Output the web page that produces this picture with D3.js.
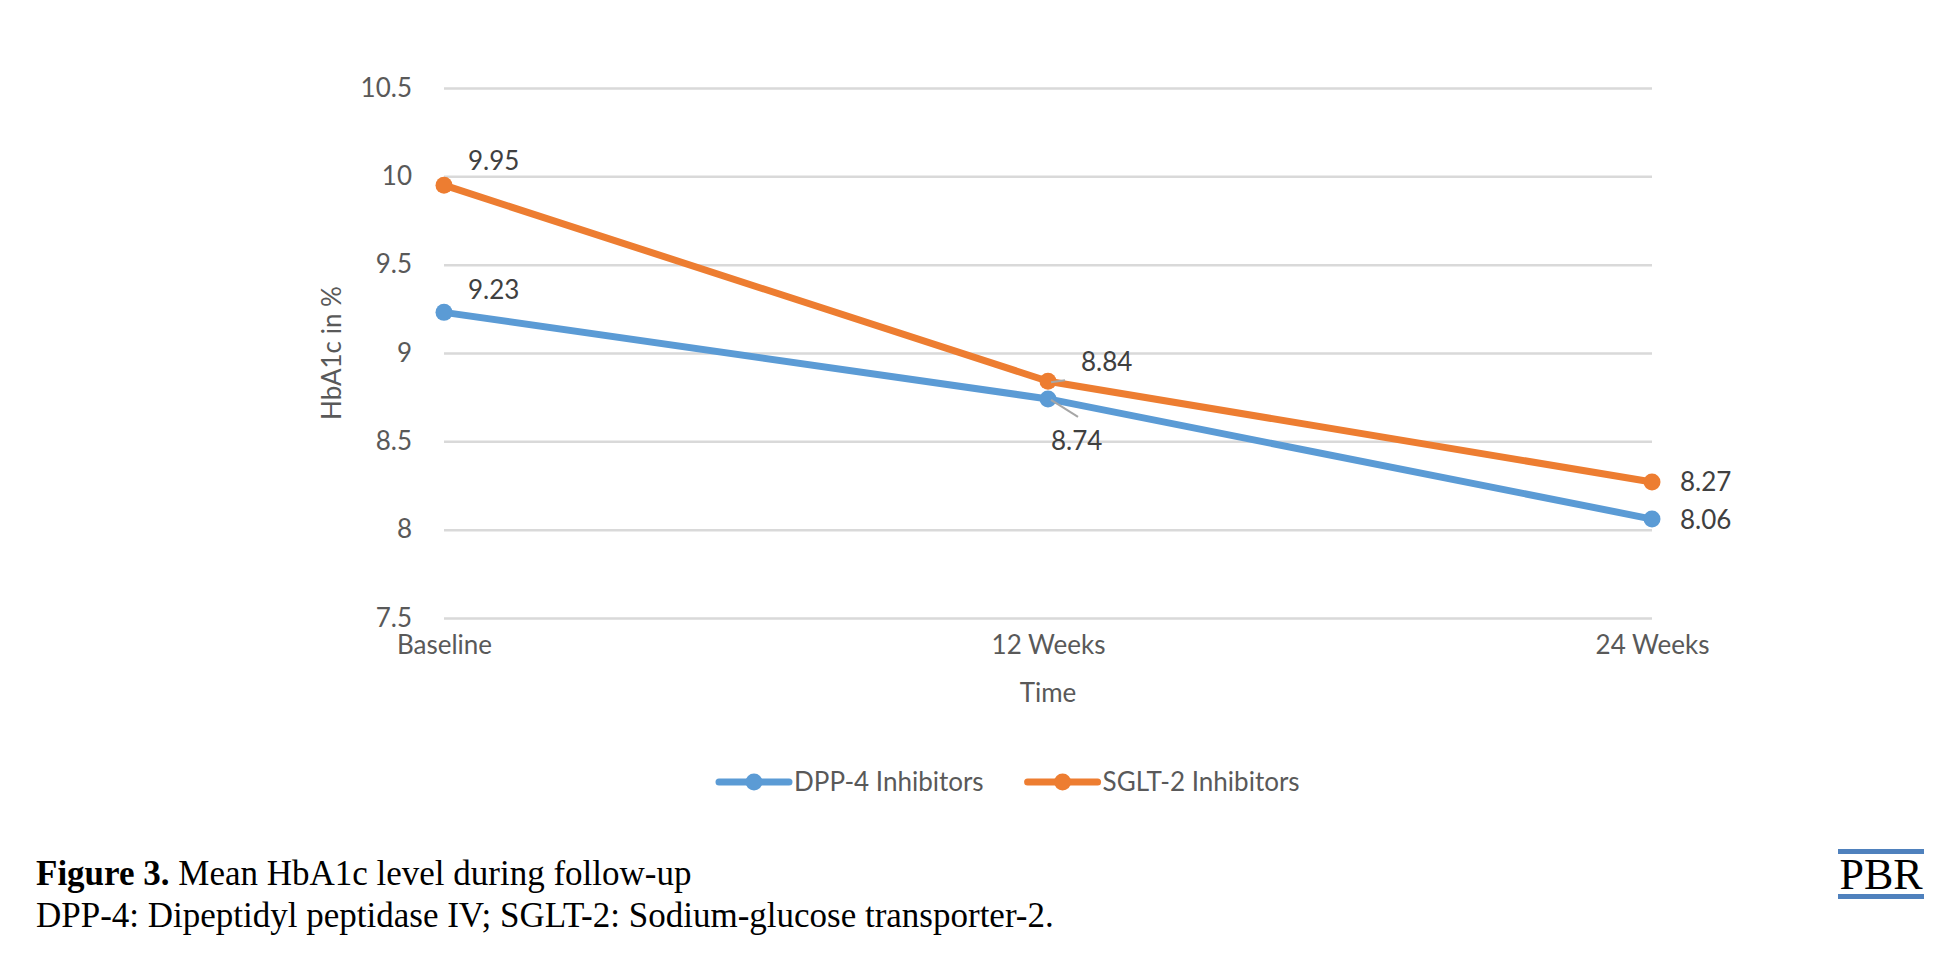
<!DOCTYPE html>
<html>
<head>
<meta charset="utf-8">
<script src="https://cdn.jsdelivr.net/npm/d3@7"></script>
<style>
  body { margin: 0; background: #fff; }
  svg { display: block; }
  .axis text { font-family: Lato, "Noto Sans", sans-serif; font-size: 26px; fill: #595959; }
  .axis line { stroke: #d9d9d9; stroke-width: 2.5; }
  .axis .domain { display: none; }
</style>
</head>
<body>
<div id="chart"></div>
<script>
(() => {
  // chart data
  const categories = ["Baseline", "12 Weeks", "24 Weeks"];
  const dppValues = [9.23, 8.74, 8.06];
  const sgltValues = [9.95, 8.84, 8.27];
  const seriesNames = ["DPP-4 Inhibitors", "SGLT-2 Inhibitors"];
  const yTicks = [7.5, 8, 8.5, 9, 9.5, 10, 10.5];
  const yTitle = "HbA1c in %";
  const xTitle = "Time";
  const captionBold = "Figure 3.";
  const captionText = " Mean HbA1c level during follow-up";
  const captionNote = "DPP-4: Dipeptidyl peptidase IV; SGLT-2: Sodium-glucose transporter-2.";

  // define main elements
  const width = 1951, height = 975;
  const plot = { left: 444, right: 1652, top: 88, bottom: 618 };
  const font = 'Lato, "Noto Sans", sans-serif';
  const colors = ["#5b9bd5", "#ed7d31"];

  const svg = d3.select("#chart")
    .append("svg")
    .attr("width", width)
    .attr("height", height);

  const x = d3.scalePoint()
    .domain(categories)
    .range([plot.left, plot.right]);
  const y = d3.scaleLinear()
    .domain([7.5, 10.5])
    .range([plot.bottom, plot.top]);

  // gridlines + y tick labels
  svg.append("g")
    .attr("class", "axis")
    .attr("transform", `translate(${plot.left},0)`)
    .call(d3.axisLeft(y)
      .tickValues(yTicks)
      .tickFormat(d => String(d))
      .tickSize(-(plot.right - plot.left))
      .tickPadding(32));

  // category labels
  svg.append("g")
    .attr("class", "axis")
    .attr("transform", `translate(0,${plot.bottom})`)
    .call(d3.axisBottom(x).tickSize(0).tickPadding(18));

  // axis titles
  svg.append("text")
    .attr("transform", `translate(341,${(plot.top + plot.bottom) / 2}) rotate(-90)`)
    .attr("text-anchor", "middle")
    .style("font-family", font).style("font-size", "26px").style("fill", "#595959")
    .text(yTitle);
  svg.append("text")
    .attr("x", x("12 Weeks"))
    .attr("y", 702)
    .attr("text-anchor", "middle")
    .style("font-family", font).style("font-size", "26px").style("fill", "#595959")
    .text(xTitle);

  const series = [dppValues, sgltValues].map((vals, i) => ({
    name: seriesNames[i],
    color: colors[i],
    points: vals.map((v, j) => ({ cat: categories[j], value: v }))
  }));

  const line = d3.line()
    .x(d => x(d.cat))
    .y(d => y(d.value));

  // lines and markers
  series.forEach(s => {
    const g = svg.append("g");
    g.append("path")
      .attr("d", line(s.points))
      .attr("fill", "none")
      .attr("stroke", s.color)
      .attr("stroke-width", 7)
      .attr("stroke-linejoin", "round");
    g.selectAll("circle")
      .data(s.points)
      .join("circle")
      .attr("cx", d => x(d.cat))
      .attr("cy", d => y(d.value))
      .attr("r", 8.5)
      .attr("fill", s.color);
  });

  // data label placement (offset from point, per series / category)
  const labelOffsets = [
    [[24, -13], [3, 51], [28, 10]],
    [[24, -15], [33, -10], [28, 9]]
  ];
  // leader lines for the moved labels at 12 weeks
  const leaders = [
    { s: 0, c: 1, dx: 30, dy: 18 },
    { s: 1, c: 1, dx: 17, dy: -1 }
  ];
  leaders.forEach(l => {
    const p = series[l.s].points[l.c];
    svg.append("line")
      .attr("x1", x(p.cat) + 3).attr("y1", y(p.value) + 1)
      .attr("x2", x(p.cat) + l.dx).attr("y2", y(p.value) + l.dy)
      .attr("stroke", "#a6a6a6")
      .attr("stroke-width", 2);
  });

  series.forEach((s, i) => {
    svg.append("g").selectAll("text")
      .data(s.points)
      .join("text")
      .attr("x", (d, j) => x(d.cat) + labelOffsets[i][j][0])
      .attr("y", (d, j) => y(d.value) + labelOffsets[i][j][1])
      .style("font-family", font).style("font-size", "26px").style("fill", "#404040")
      .text(d => d3.format(".2f")(d.value));
  });

  // legend
  const legend = svg.append("g").attr("transform", "translate(719,782)");
  let lx = 0;
  series.forEach(s => {
    const item = legend.append("g").attr("transform", `translate(${lx},0)`);
    item.append("line")
      .attr("x1", 0).attr("x2", 70)
      .attr("stroke", s.color).attr("stroke-width", 7)
      .attr("stroke-linecap", "round");
    item.append("circle").attr("cx", 35).attr("r", 8.5).attr("fill", s.color);
    const t = item.append("text")
      .attr("x", 75).attr("dy", "0.35em")
      .style("font-family", font).style("font-size", "26px").style("fill", "#595959")
      .text(s.name);
    lx += 75 + t.node().getComputedTextLength() + 44;
  });

  // figure caption
  const cap = svg.append("text")
    .attr("x", 36).attr("y", 885)
    .style("font-family", '"Liberation Serif", "Times New Roman", serif')
    .style("font-size", "35px").style("fill", "#000");
  cap.append("tspan").style("font-weight", "bold").text(captionBold);
  cap.append("tspan").text(captionText);
  svg.append("text")
    .attr("x", 36).attr("y", 927)
    .style("font-family", '"Liberation Serif", "Times New Roman", serif')
    .style("font-size", "35px").style("fill", "#000")
    .text(captionNote);

  // PBR mark
  const logo = svg.append("g").attr("transform", "translate(1838,0)");
  logo.append("rect").attr("x", 0).attr("y", 849).attr("width", 86).attr("height", 5).attr("fill", "#4f81bd");
  logo.append("rect").attr("x", 0).attr("y", 894).attr("width", 86).attr("height", 5).attr("fill", "#4f81bd");
  logo.append("text")
    .attr("x", 43).attr("y", 889)
    .attr("text-anchor", "middle")
    .style("font-family", '"Liberation Serif", "Times New Roman", serif')
    .style("font-size", "44px").style("fill", "#000")
    .text("PBR");
})();
</script>
</body>
</html>
